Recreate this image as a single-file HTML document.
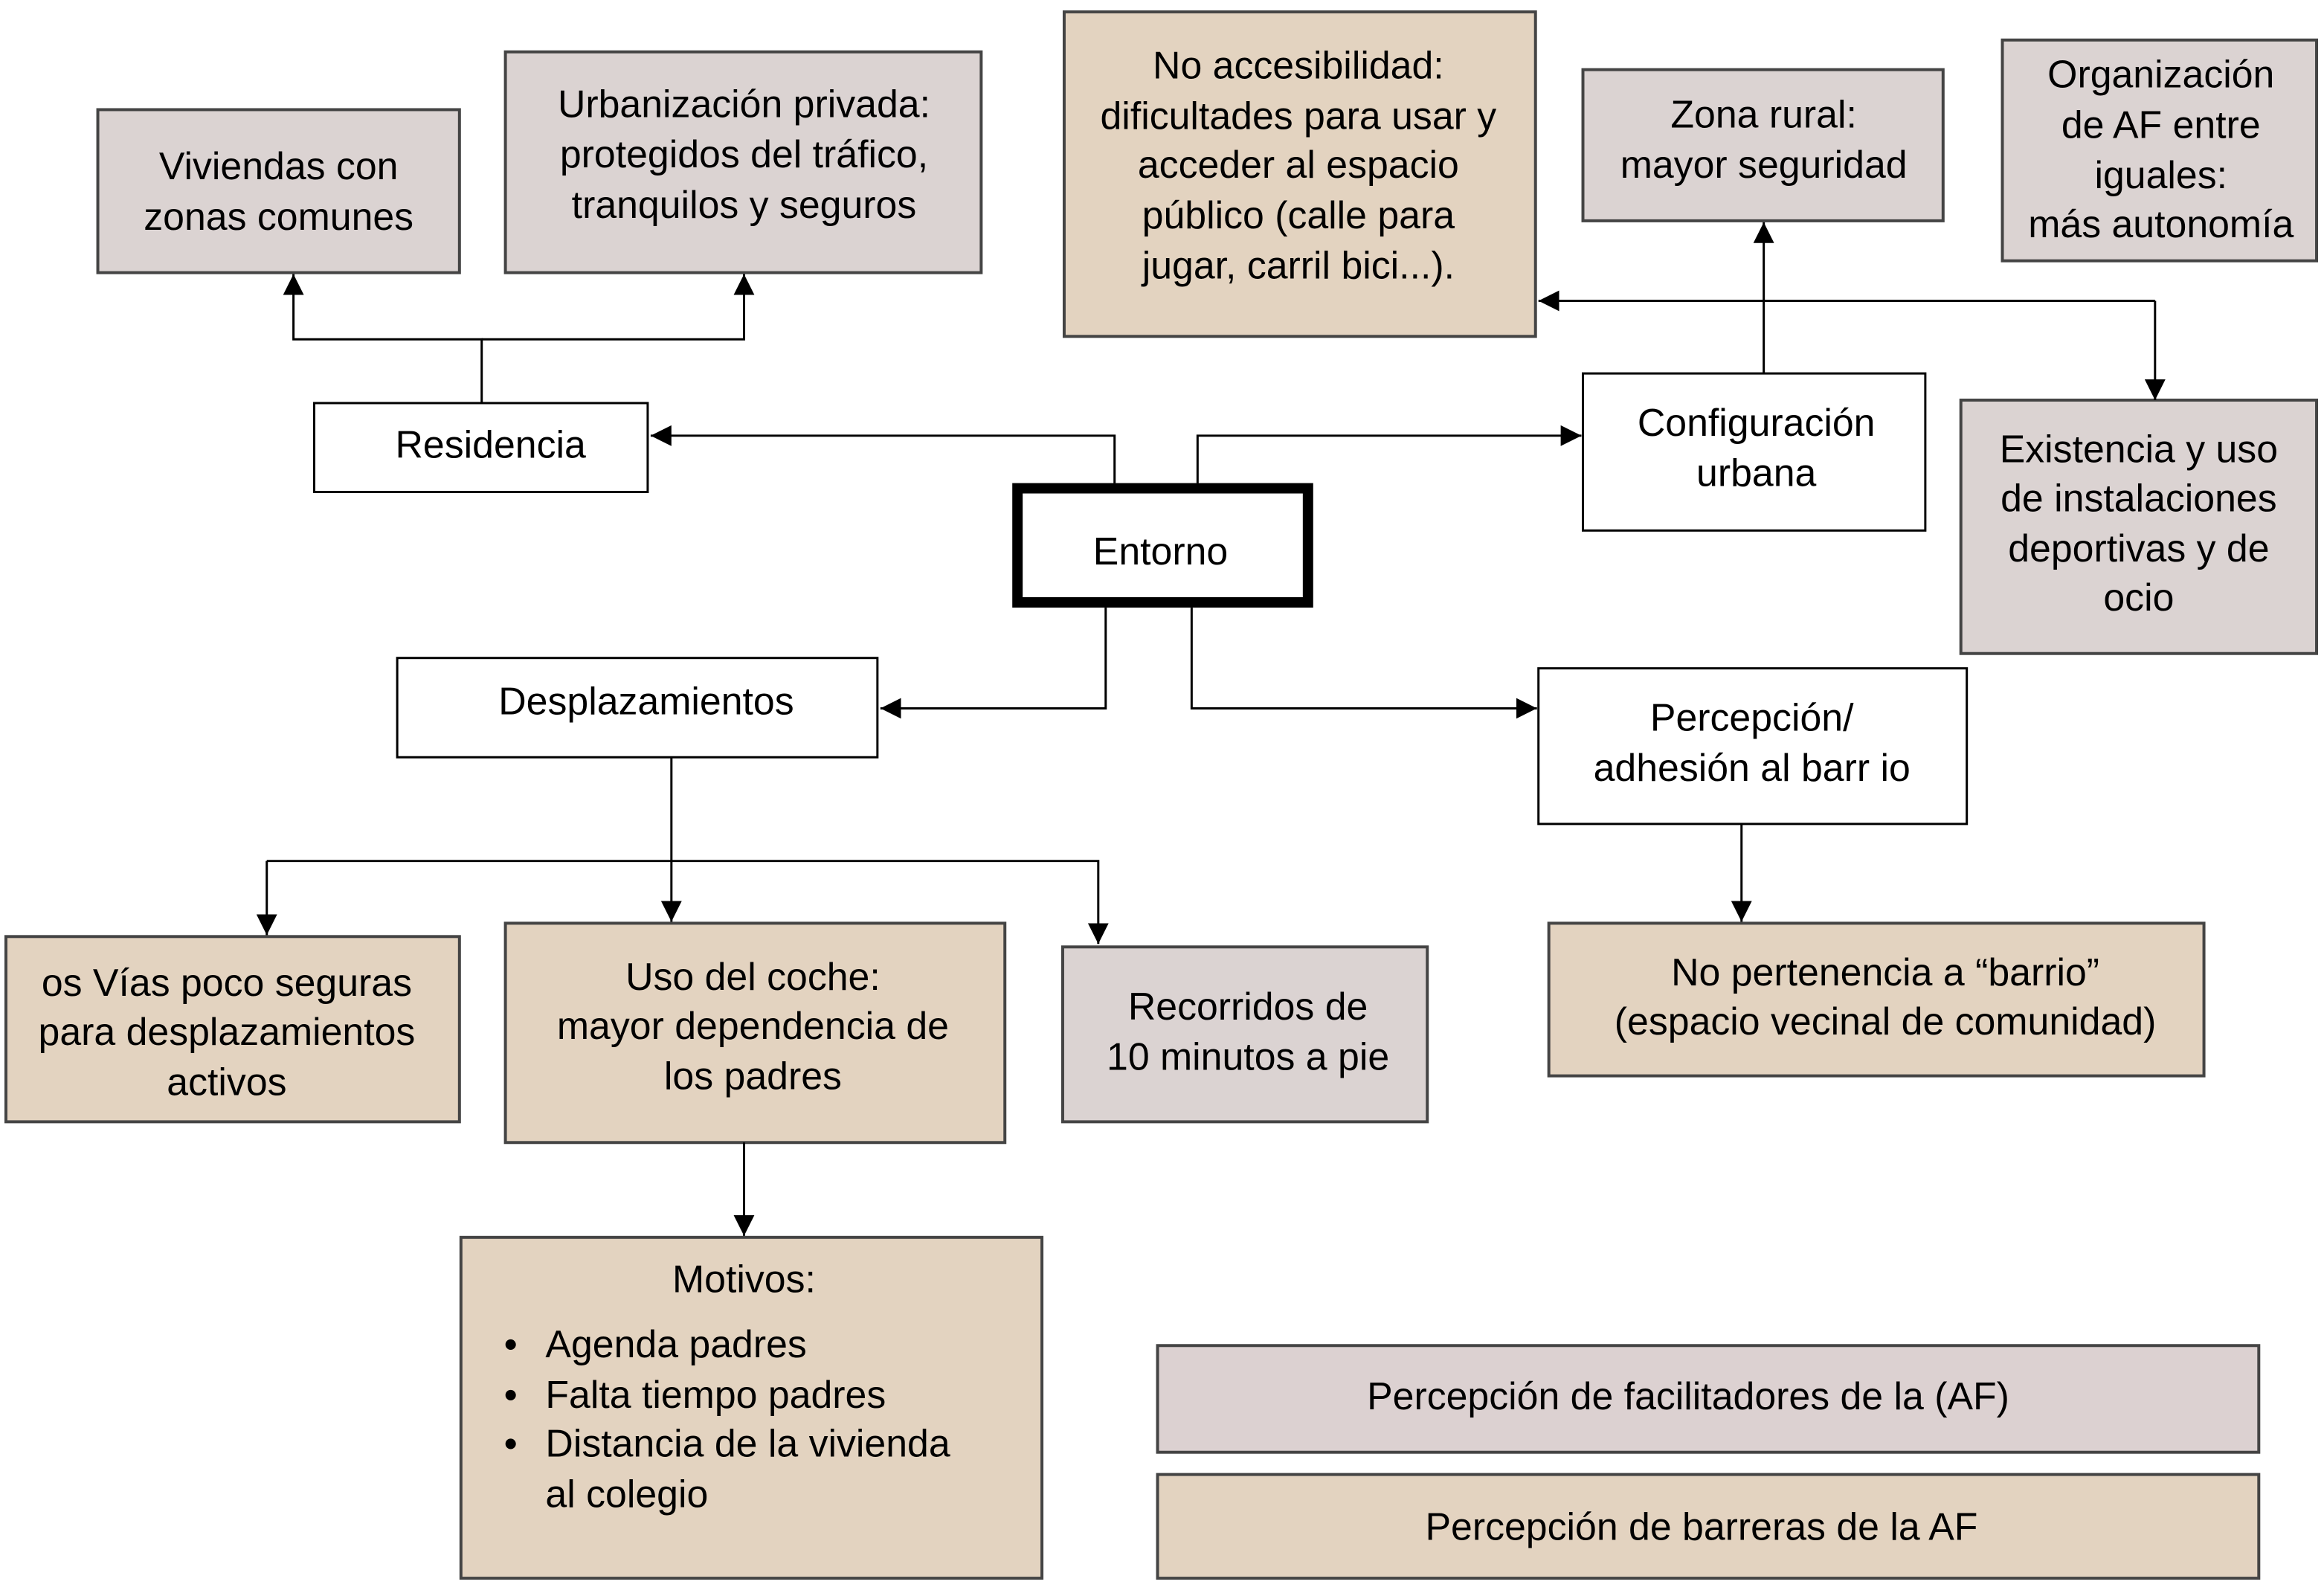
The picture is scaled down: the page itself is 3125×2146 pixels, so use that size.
<!DOCTYPE html>
<html><head><meta charset="utf-8"><style>html,body{margin:0;padding:0;background:#fff}svg{display:block}</style></head>
<body>
<svg width="3125" height="2146" viewBox="0 0 1568 1077" preserveAspectRatio="none" xmlns="http://www.w3.org/2000/svg" font-family="Liberation Sans, Arial, sans-serif" font-size="26" fill="#000">
<defs><marker id="a" viewBox="0 0 10 10" refX="10" refY="5" markerWidth="14" markerHeight="14" markerUnits="userSpaceOnUse" orient="auto"><path d="M0,0L10,5L0,10z" fill="#000"/></marker></defs>
<g stroke="#444" stroke-width="2">
<rect x="66" y="74" width="244" height="110" fill="#dbd3d2"/>
<rect x="341" y="35" width="321" height="149" fill="#dbd3d2"/>
<rect x="718" y="8" width="318" height="219" fill="#e3d3c0"/>
<rect x="1068" y="47" width="243" height="102" fill="#dbd3d2"/>
<rect x="1351" y="27" width="212" height="149" fill="#dbd3d2"/>
<rect x="1323" y="270" width="240" height="171" fill="#dbd3d2"/>
<rect x="4" y="632" width="306" height="125" fill="#e3d3c0"/>
<rect x="341" y="623" width="337" height="148" fill="#e3d3c0"/>
<rect x="717" y="639" width="246" height="118" fill="#dbd3d2"/>
<rect x="1045" y="623" width="442" height="103" fill="#e3d3c0"/>
<rect x="311" y="835" width="392" height="230" fill="#e3d3c0"/>
<rect x="781" y="908" width="743" height="72" fill="#dcd1d1"/>
<rect x="781" y="995" width="743" height="70" fill="#e3d3c0"/>
</g>
<g stroke="#000" stroke-width="1.5" fill="#fff">
<rect x="212" y="272" width="225" height="60"/>
<rect x="1068" y="252" width="231" height="106"/>
<rect x="268" y="444" width="324" height="67"/>
<rect x="1038" y="451" width="289" height="105"/>
</g>
<rect x="686.5" y="329.5" width="196" height="77" fill="#fff" stroke="#000" stroke-width="7"/>
<g stroke="#000" stroke-width="1.5" fill="none">
<path d="M752 326V294H439" marker-end="url(#a)"/>
<path d="M808 326V294H1067" marker-end="url(#a)"/>
<path d="M325 272V229H198V185" marker-end="url(#a)"/>
<path d="M325 229H502V185" marker-end="url(#a)"/>
<path d="M1190 252V150" marker-end="url(#a)"/>
<path d="M1454 203H1038" marker-end="url(#a)"/>
<path d="M1454 203V270" marker-end="url(#a)"/>
<path d="M746 410V478H594" marker-end="url(#a)"/>
<path d="M804 410V478H1037" marker-end="url(#a)"/>
<path d="M453 511V622" marker-end="url(#a)"/>
<path d="M180 581H741V637" marker-end="url(#a)"/>
<path d="M180 581V631" marker-end="url(#a)"/>
<path d="M502 771V834" marker-end="url(#a)"/>
<path d="M1175 556V622" marker-end="url(#a)"/>
</g>
<g text-anchor="middle">
<text x="188" y="121">Viviendas con</text><text x="188" y="155">zonas comunes</text>
<text x="502" y="79">Urbanización privada:</text><text x="502" y="113">protegidos del tráfico,</text><text x="502" y="147">tranquilos y seguros</text>
<text x="876" y="53">No accesibilidad:</text><text x="876" y="87">dificultades para usar y</text><text x="876" y="120">acceder al espacio</text><text x="876" y="154">público (calle para</text><text x="876" y="188">jugar, carril bici...).</text>
<text x="1190" y="86">Zona rural:</text><text x="1190" y="120">mayor seguridad</text>
<text x="1458" y="59">Organización</text><text x="1458" y="93">de AF entre</text><text x="1458" y="127">iguales:</text><text x="1458" y="160">más autonomía</text>
<text x="331" y="309">Residencia</text>
<text x="1185" y="294">Configuración</text><text x="1185" y="328">urbana</text>
<text x="1443" y="312">Existencia y uso</text><text x="1443" y="345">de instalaciones</text><text x="1443" y="379">deportivas y de</text><text x="1443" y="412">ocio</text>
<text x="783" y="381">Entorno</text>
<text x="436" y="482">Desplazamientos</text>
<text x="1182" y="493">Percepción/</text><text x="1182" y="527">adhesión al barr io</text>
<text x="153" y="672">os Vías poco seguras</text><text x="153" y="705">para desplazamientos</text><text x="153" y="739">activos</text>
<text x="508" y="668">Uso del coche:</text><text x="508" y="701">mayor dependencia de</text><text x="508" y="735">los padres</text>
<text x="842" y="688">Recorridos de</text><text x="842" y="722">10 minutos a pie</text>
<text x="1272" y="665">No pertenencia a “barrio”</text><text x="1272" y="698">(espacio vecinal de comunidad)</text>
<text x="502" y="872">Motivos:</text>
<text x="1139" y="951">Percepción de facilitadores de la (AF)</text>
<text x="1148" y="1039">Percepción de barreras de la AF</text>
</g>
<g>
<text x="340" y="916">•</text><text x="368" y="916">Agenda padres</text>
<text x="340" y="950">•</text><text x="368" y="950">Falta tiempo padres</text>
<text x="340" y="983">•</text><text x="368" y="983">Distancia de la vivienda</text>
<text x="368" y="1017">al colegio</text>
</g>
</svg>
</body></html>
